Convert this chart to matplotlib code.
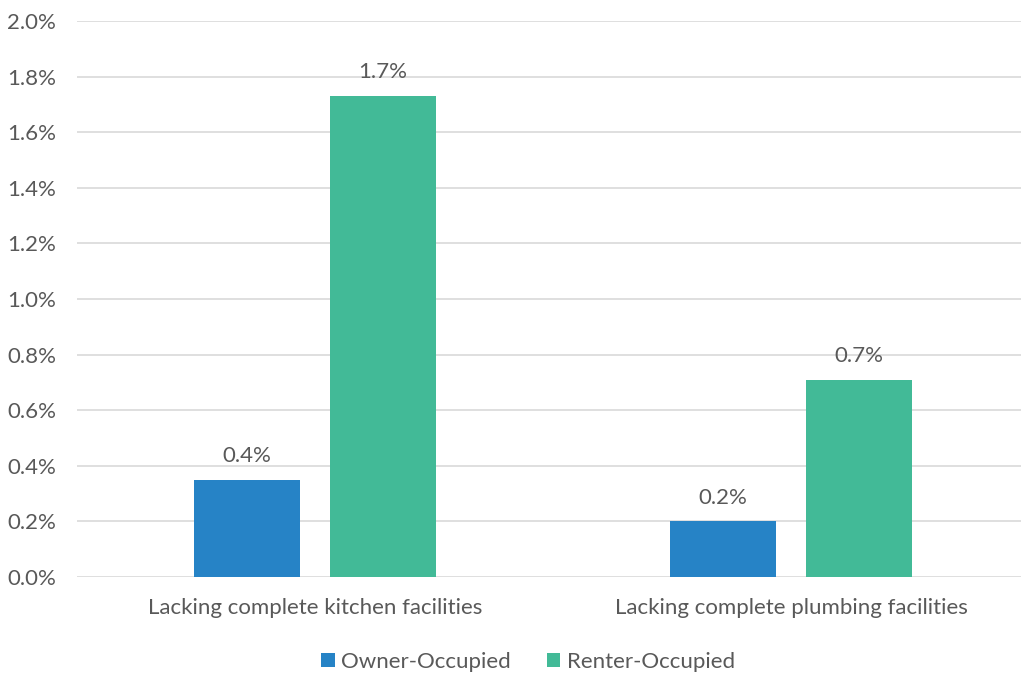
import matplotlib
matplotlib.use("Agg")
import matplotlib.pyplot as plt
import numpy as np

categories = ["Lacking complete kitchen facilities", "Lacking complete plumbing facilities"]
series_names = ["Owner-Occupied", "Renter-Occupied"]
owner = [0.35, 0.20]
renter = [1.73, 0.71]
owner_labels = ["0.4%", "0.2%"]
renter_labels = ["1.7%", "0.7%"]
yticks = [0.0, 0.2, 0.4, 0.6, 0.8, 1.0, 1.2, 1.4, 1.6, 1.8, 2.0]

plt.rcParams['font.family'] = ['Lato', 'DejaVu Sans']
W, H = 1021, 675
fig = plt.figure(figsize=(W/100, H/100), dpi=100)
ax = fig.add_axes([77/W, (H-577)/H, (1029-77)/W, (577-21)/H])

text_color = "#595959"
blue = "#2683C6"
green = "#42BA97"
fs = 16
x = np.arange(len(categories))
bw = 0.223
off = 0.1425
b1 = ax.bar(x - off, owner, bw, color=blue, label=series_names[0], zorder=3)
b2 = ax.bar(x + off, renter, bw, color=green, label=series_names[1], zorder=3)

for rects, labs in ((b1, owner_labels), (b2, renter_labels)):
    for r, l in zip(rects, labs):
        ax.annotate(l, (r.get_x() + r.get_width()/2, r.get_height()), xytext=(0, 10),
                    textcoords="offset points", ha="center", va="bottom",
                    fontsize=fs, color=text_color)

ax.set_xlim(-0.5, 1.5)
ax.set_ylim(0, 2.0)
ax.set_yticks(yticks)
ax.set_yticklabels([f"{v:.1f}%" for v in yticks])
ax.set_xticks(x)
ax.set_xticklabels(categories)
ax.tick_params(axis='both', length=0, colors=text_color, labelsize=fs)
ax.tick_params(axis='y', pad=15)
ax.tick_params(axis='x', pad=15)
ax.grid(axis='y', color="#D9D9D9", linewidth=1.2, zorder=0)
for s in ax.spines.values():
    s.set_visible(False)

leg = fig.legend(handles=[b1, b2], labels=series_names, loc="center", bbox_to_anchor=(528/W, 1 - 662/H),
                 ncol=2, frameon=False, fontsize=fs, handlelength=0.6, handleheight=0.6,
                 handletextpad=0.3, columnspacing=1.6)
for t in leg.get_texts():
    t.set_color(text_color)

fig.savefig("out.png", dpi=100)
